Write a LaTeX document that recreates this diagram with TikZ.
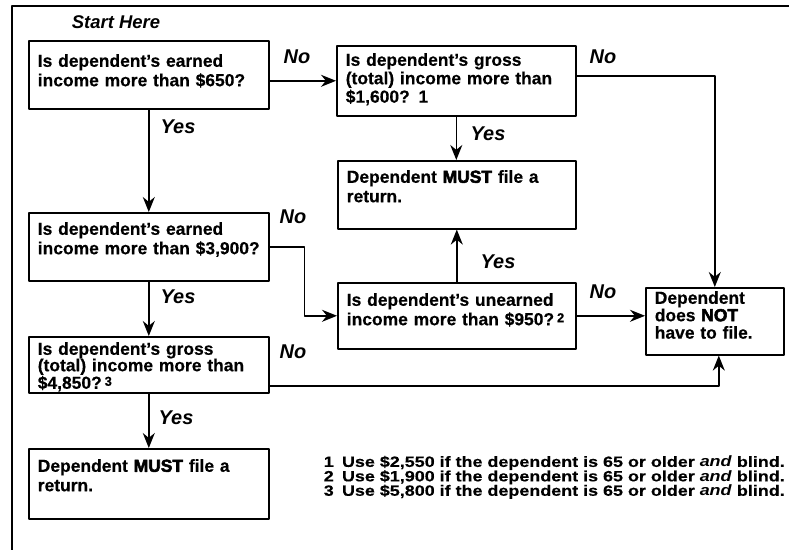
\documentclass[tikz,border=0pt]{standalone}
\usepackage{fontspec}
\setmainfont{Liberation Sans}[BoldFeatures={FakeBold=0.4}]
\newfontfamily\heavyfont[BoldFeatures={FakeBold=3}]{Liberation Sans}
\newfontfamily\notefont[FakeStretch=1.2,BoldFeatures={FakeBold=0.4}]{Liberation Sans}
\usetikzlibrary{arrows.meta}
\newcommand{\hvy}[1]{{\heavyfont\bfseries #1}}
\begin{document}
\begin{tikzpicture}[>={Stealth[length=15bp,width=12bp]},line join=bevel,line width=1.6bp,
    qbox/.style={draw=black,rectangle,anchor=north west,align=left,inner xsep=9bp,inner ysep=0bp,
      font=\fontsize{17.5}{19.5}\selectfont\bfseries},
    yesno/.style={font=\fontsize{20}{22}\selectfont\bfseries\itshape,inner sep=0bp},
  ]
    \useasboundingbox (0bp,0bp) rectangle (789bp,550bp);
    %% frame
    \draw (12bp,0bp) -- (12bp,544bp) -- (789bp,544bp);
    \node (start) at (116bp,528bp) [yesno,font=\fontsize{18.5}{20}\selectfont\bfseries\itshape] {Start Here};
    %% boxes
    \node (q650) at (28bp,510bp) [qbox,text width=222bp,text height=26bp,text depth=42bp] {Is dependent's earned\\income more than \$650?};
    \node (q1600) at (336bp,505bp) [qbox,text width=221bp,text height=20bp,text depth=50bp,
      font=\fontsize{17.5}{18.5}\selectfont\bfseries] {Is dependent's gross\\(total) income more than\\\$1,600? 1};
    \node (must1) at (337bp,390bp) [qbox,text width=220bp,text height=22bp,text depth=46bp] {Dependent \hvy{MUST} file a\\return.};
    \node (q3900) at (28bp,338bp) [qbox,text width=222bp,text height=22bp,text depth=46bp] {Is dependent's earned\\income more than \$3,900?};
    \node (q950) at (337bp,268bp) [qbox,text width=220bp,text height=23bp,text depth=43bp] {Is dependent's unearned\\income more than \$950?\,\raisebox{3bp}{\fontsize{13}{13}\selectfont 2}};
    \node (notfile) at (645bp,263bp) [qbox,text width=120bp,text height=16bp,text depth=51bp,
      font=\fontsize{17.5}{17.5}\selectfont\bfseries] {Dependent\\does \hvy{NOT}\\have to file.};
    \node (q4850) at (28bp,214bp) [qbox,text width=222bp,text height=18bp,text depth=38bp,
      font=\fontsize{17.5}{16.5}\selectfont\bfseries] {Is dependent's gross\\(total) income more than\\\$4,850?\,\raisebox{3bp}{\fontsize{13}{13}\selectfont 3}};
    \node (must2) at (28bp,102bp) [qbox,text width=222bp,text height=23bp,text depth=47bp] {Dependent \hvy{MUST} file a\\return.};
    %% connectors
    \draw [->] (q650.east |- q1600.west) -- (q1600.west);
    \draw [->] ([yshift=5bp]q1600.east) -| (notfile.north);
    \draw [->] (q1600.south) -- (q1600.south |- must1.north);
    \draw [->] (q650.south) -- (q3900.north);
    \draw [->] (q3900.east) -- ++(35bp,0bp) |- (q950.west);
    \draw [->] (q950.north) -- (q950.north |- must1.south);
    \draw [->] (q950.east) -- (q950.east -| notfile.west);
    \draw [->] (q3900.south) -- (q4850.north);
    \draw [->] ([yshift=-21bp]q4850.east) -| ([xshift=4bp]notfile.south);
    \draw [->] (q4850.south) -- (must2.north);
    %% labels
    \node (no1) at (297bp,493bp) [yesno] {No};
    \node (no2) at (603bp,493bp) [yesno] {No};
    \node (yes1) at (178bp,423bp) [yesno] {Yes};
    \node (yes2) at (488bp,416bp) [yesno] {Yes};
    \node (no3) at (293bp,333bp) [yesno] {No};
    \node (yes3) at (498bp,288bp) [yesno] {Yes};
    \node (no4) at (603bp,258bp) [yesno] {No};
    \node (yes4) at (178bp,253bp) [yesno] {Yes};
    \node (no5) at (293bp,198bp) [yesno] {No};
    \node (yes5) at (176bp,132bp) [yesno] {Yes};
    %% footnotes
    \node (notes) at (323bp,95bp) [anchor=north west,align=left,inner sep=0bp,
      font=\notefont\fontsize{15}{14.5}\selectfont\bfseries] {1\hspace{0.55em}Use \$2,550 if the dependent is 65 or older \textit{and} blind.\\
      2\hspace{0.55em}Use \$1,900 if the dependent is 65 or older \textit{and} blind.\\
      3\hspace{0.55em}Use \$5,800 if the dependent is 65 or older \textit{and} blind.};
    %
\end{tikzpicture}
\end{document}
